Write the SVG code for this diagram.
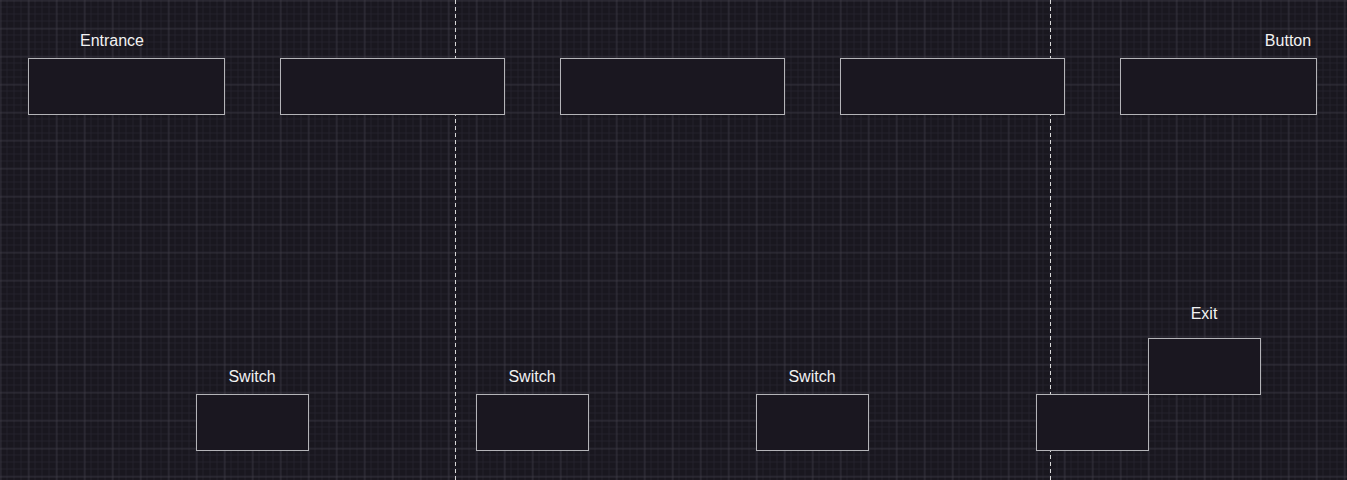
<svg xmlns="http://www.w3.org/2000/svg" width="1347" height="480" viewBox="0 0 1347 480">
<style>
.box{fill:#1a1720;stroke:#b4b4b8;stroke-width:1}
.lbl{fill:#f2f2f2;font-family:"Liberation Sans",Arial,sans-serif;font-size:16px;text-anchor:middle}
.div{stroke:#d8d8d8;stroke-width:1;stroke-dasharray:4 3;fill:none}
</style>
<defs>
<pattern id="minor" width="7" height="7" patternUnits="userSpaceOnUse">
<path d="M7 0V7M0 7H7" stroke="#2b2935" stroke-width="1" fill="none"/>
</pattern>
<pattern id="major" width="28" height="28" patternUnits="userSpaceOnUse" x="0.5" y="0.5">
<rect width="28" height="28" fill="url(#minor)"/>
<path d="M0 0V28M0 0H28" stroke="#45434d" stroke-width="1" fill="none"/>
</pattern>
</defs>
<rect width="1347" height="480" fill="#19171f"/>
<rect width="1347" height="480" fill="url(#major)"/>
<g id="connectors">
<line class="div" x1="455.5" y1="0" x2="455.5" y2="480"/>
<line class="div" x1="1050.5" y1="0" x2="1050.5" y2="480"/>
</g>
<g id="entrance"><rect class="box" x="28.5" y="58.5" width="196" height="56"/><text class="lbl" x="112" y="46">Entrance</text></g>
<g id="room2"><rect class="box" x="280.5" y="58.5" width="224" height="56"/></g>
<g id="room3"><rect class="box" x="560.5" y="58.5" width="224" height="56"/></g>
<g id="room4"><rect class="box" x="840.5" y="58.5" width="224" height="56"/></g>
<g id="button"><rect class="box" x="1120.5" y="58.5" width="196" height="56"/><text class="lbl" x="1288" y="46">Button</text></g>
<g id="switch1"><rect class="box" x="196.5" y="394.5" width="112" height="56"/><text class="lbl" x="252" y="382">Switch</text></g>
<g id="switch2"><rect class="box" x="476.5" y="394.5" width="112" height="56"/><text class="lbl" x="532" y="382">Switch</text></g>
<g id="switch3"><rect class="box" x="756.5" y="394.5" width="112" height="56"/><text class="lbl" x="812" y="382">Switch</text></g>
<g id="block"><rect class="box" x="1036.5" y="394.5" width="112" height="56"/></g>
<g id="exit"><rect class="box" x="1148.5" y="338.5" width="112" height="56"/><text class="lbl" x="1204" y="319">Exit</text></g>
</svg>
